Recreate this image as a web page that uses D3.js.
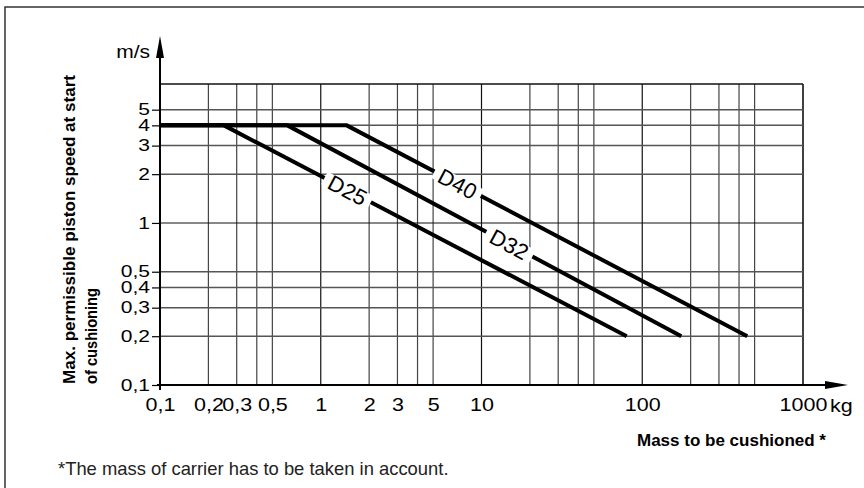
<!DOCTYPE html>
<html>
<head>
<meta charset="utf-8">
<script src="https://cdn.jsdelivr.net/npm/d3@7"></script>
<style>
  html, body { margin: 0; padding: 0; background: #fff; }
  svg { display: block; font-family: "Liberation Sans", Arial, Helvetica, sans-serif; }
</style>
</head>
<body>
<div id="chart"></div>
<script>
// ── DATA ───────────────────────────────────────────────────────
const seriesNames = ["D25", "D32", "D40"];
const massD25  = [0.1, 0.25, 80];
const speedD25 = [4, 4, 0.2];
const massD32  = [0.1, 0.62, 175];
const speedD32 = [4, 4, 0.2];
const massD40  = [0.1, 1.45, 450];
const speedD40 = [4, 4, 0.2];
const labelMass = [1.47, 14.9, 7.1];   // where each name sits on its line

const xTickValues = [0.1, 0.2, 0.3, 0.5, 1, 2, 3, 5, 10, 100, 1000];
const xTickLabels = ["0,1", "0,2", "0,3", "0,5", "1", "2", "3", "5", "10", "100", "1000"];
const yTickValues = [0.1, 0.2, 0.3, 0.4, 0.5, 1, 2, 3, 4, 5];
const yTickLabels = ["0,1", "0,2", "0,3", "0,4", "0,5", "1", "2", "3", "4", "5"];
const xGridValues = [0.2, 0.3, 0.4, 0.5, 1, 2, 3, 4, 5, 10, 20, 30, 40, 50, 100, 200, 300, 400, 500, 1000];
const yGridValues = [0.2, 0.3, 0.4, 0.5, 1, 2, 3, 4, 5];
const xDomain = [0.1, 1000];
const yDomain = [0.1, 7.2];

// ── SIZE / SCALES ──────────────────────────────────────────────
const W = 864, H = 488;
const plot = { left: 160, right: 803, top: 84, bottom: 385 };

const svg = d3.select("#chart").append("svg")
  .attr("width", W).attr("height", H);

const x = d3.scaleLog().domain(xDomain).range([plot.left, plot.right]);
const y = d3.scaleLog().domain(yDomain).range([plot.bottom, plot.top]);

// the source lettering is wide: measure at one size, draw at a smaller height
function widen(sel, size, widthSize) {
  sel.each(function() {
    const t = d3.select(this).attr("font-size", widthSize);
    const w = this.getComputedTextLength();
    t.attr("font-size", size).attr("textLength", w).attr("lengthAdjust", "spacingAndGlyphs");
  });
}

// outer frame (top + left edges only)
svg.append("path")
  .attr("d", `M5,${H} L5,7 L${W},7`)
  .attr("fill", "none").attr("stroke", "#333").attr("stroke-width", 1.5);

// ── GRID ───────────────────────────────────────────────────────
const grid = svg.append("g");
grid.selectAll(".vg").data(xGridValues).join("line")
  .attr("x1", d => x(d)).attr("x2", d => x(d))
  .attr("y1", plot.top).attr("y2", plot.bottom)
  .attr("stroke", d => [1, 10, 100, 1000].includes(d) ? "#111" : "#444")
  .attr("stroke-width", d => d === 1000 ? 1.6 : 1.2);
grid.selectAll(".hg").data(yGridValues).join("line")
  .attr("x1", plot.left).attr("x2", plot.right)
  .attr("y1", d => y(d)).attr("y2", d => y(d))
  .attr("stroke", d => d === 1 ? "#111" : "#555")
  .attr("stroke-width", d => d === 1 ? 1.1 : 1.5);
grid.append("line")
  .attr("x1", plot.left).attr("x2", plot.right)
  .attr("y1", plot.top).attr("y2", plot.top)
  .attr("stroke", "#111").attr("stroke-width", 1.6);

// ── SERIES ─────────────────────────────────────────────────────
const series = [
  { name: seriesNames[0], pts: massD25.map((m, i) => [m, speedD25[i]]), lm: labelMass[0] },
  { name: seriesNames[1], pts: massD32.map((m, i) => [m, speedD32[i]]), lm: labelMass[1] },
  { name: seriesNames[2], pts: massD40.map((m, i) => [m, speedD40[i]]), lm: labelMass[2] }
];

const line = d3.line().x(d => x(d[0])).y(d => y(d[1]));

svg.append("g").selectAll("path").data(series).join("path")
  .attr("d", d => line(d.pts))
  .attr("fill", "none").attr("stroke", "#000")
  .attr("stroke-width", 4).attr("stroke-linejoin", "miter");

// labels along the sloped part of each line
series.forEach(s => {
  const a = s.pts[1], b = s.pts[2];
  const t = Math.log(s.lm / a[0]) / Math.log(b[0] / a[0]);
  const v = Math.exp(Math.log(a[1]) + t * Math.log(b[1] / a[1]));
  const px = x(s.lm), py = y(v);
  const ang = Math.atan2(y(b[1]) - y(a[1]), x(b[0]) - x(a[0])) * 180 / Math.PI;
  const g = svg.append("g").attr("transform", `translate(${px},${py}) rotate(${ang})`);
  const bg = g.append("rect").attr("fill", "#fff");
  const txt = g.append("text")
    .attr("text-anchor", "middle").attr("dy", "0.36em")
    .attr("font-size", 22).attr("fill", "#000")
    .text(s.name);
  const bb = txt.node().getBBox();
  bg.attr("x", bb.x - 6).attr("y", -7).attr("width", bb.width + 12).attr("height", 14);
});

// ── AXES ───────────────────────────────────────────────────────
const yAxis = svg.append("g")
  .attr("transform", `translate(${plot.left},0)`)
  .call(d3.axisLeft(y).tickValues(yTickValues)
    .tickFormat((d, i) => yTickLabels[i]).tickSize(8).tickPadding(2));
yAxis.select(".domain").remove();
yAxis.selectAll("line").attr("stroke", "#000").attr("stroke-width", 1.2);
yAxis.selectAll("text").attr("fill", "#000")
  .attr("font-family", "Liberation Sans, Arial, sans-serif")
  .call(widen, 16, 21);

const xAxis = svg.append("g")
  .attr("transform", `translate(0,${plot.bottom})`)
  .call(d3.axisBottom(x).tickValues(xTickValues)
    .tickFormat((d, i) => xTickLabels[i]).tickSize(0).tickPadding(13));
xAxis.select(".domain").remove();
xAxis.selectAll("text").attr("fill", "#000")
  .attr("font-family", "Liberation Sans, Arial, sans-serif")
  .call(widen, 18.5, 21.5);

// axis lines with arrow heads
svg.append("line").attr("x1", plot.left).attr("x2", plot.left)
  .attr("y1", plot.bottom + 5).attr("y2", 50)
  .attr("stroke", "#000").attr("stroke-width", 2);
svg.append("path").attr("d", `M${plot.left},36 L${plot.left - 4},58 L${plot.left + 4},58 Z`).attr("fill", "#000");
svg.append("line").attr("x1", plot.left - 3).attr("x2", 835)
  .attr("y1", plot.bottom).attr("y2", plot.bottom)
  .attr("stroke", "#000").attr("stroke-width", 2);
svg.append("path").attr("d", `M848,${plot.bottom} L825,${plot.bottom - 4} L825,${plot.bottom + 4} Z`).attr("fill", "#000");

// ── TEXT ───────────────────────────────────────────────────────
svg.append("text").attr("x", 150).attr("y", 58).attr("text-anchor", "end")
  .text("m/s").call(widen, 18, 21);
svg.append("text").attr("x", 830).attr("y", 412)
  .text("kg").call(widen, 18.5, 21.5);

svg.append("text").attr("x", 826).attr("y", 446).attr("text-anchor", "end")
  .attr("font-size", 17).attr("font-weight", "bold")
  .attr("textLength", 189).attr("lengthAdjust", "spacingAndGlyphs")
  .text("Mass to be cushioned *");

const yTitle = svg.append("text")
  .attr("transform", "translate(0,384) rotate(-90)")
  .attr("font-size", 16).attr("font-weight", "bold");
yTitle.append("tspan").attr("x", 0).attr("y", 75)
  .attr("textLength", 309).attr("lengthAdjust", "spacingAndGlyphs")
  .text("Max. permissible piston speed at start");
yTitle.append("tspan").attr("x", 0).attr("y", 97)
  .attr("textLength", 96).attr("lengthAdjust", "spacingAndGlyphs")
  .text("of cushioning");

svg.append("text").attr("x", 58).attr("y", 475)
  .attr("font-size", 18.4).attr("fill", "#222")
  .text("*The mass of carrier has to be taken in account.");
</script>
</body>
</html>
